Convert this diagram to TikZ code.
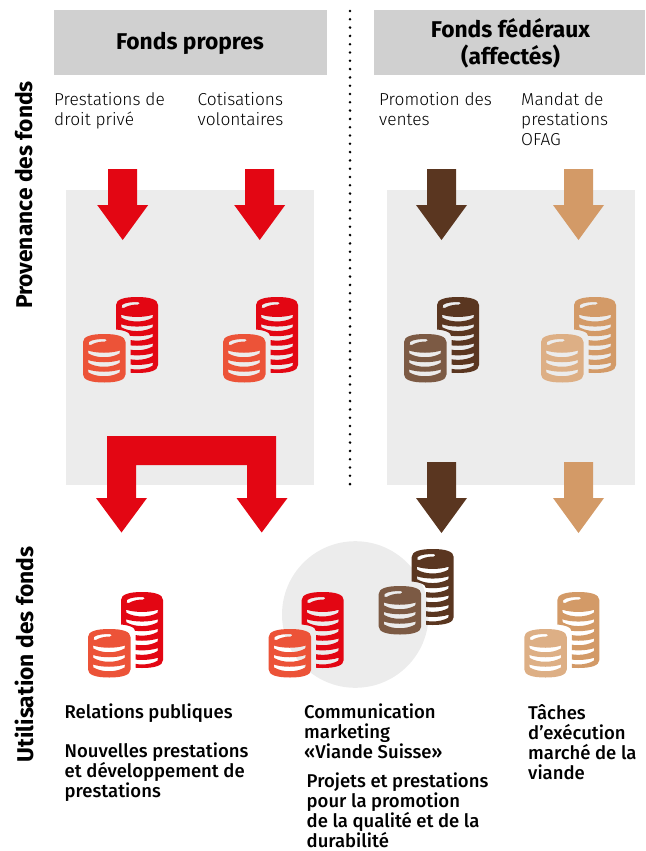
\documentclass[tikz,border=0pt]{standalone}
\usepackage{fontspec}
\setmainfont{Fira Sans}
\newfontfamily\lightfont{Fira Sans Light}
\newfontfamily\mediumfont{Fira Sans Medium}
\definecolor{fondsred}{HTML}{E30613}
\definecolor{fondsorange}{HTML}{EC5338}
\definecolor{fondsbrown}{HTML}{5A3620}
\definecolor{fondsbrownlight}{HTML}{7C5A44}
\definecolor{fondstan}{HTML}{D39A67}
\definecolor{fondstanlight}{HTML}{DDAF85}
\definecolor{panelgrey}{HTML}{ECECEC}
\definecolor{headgrey}{HTML}{D0D0D0}
\tikzset{
	headbox/.style={fill=headgrey},
	panelbox/.style={fill=panelgrey},
	headtext/.style={inner sep=0pt,align=center,font=\fontsize{22.8}{27}\selectfont\bfseries},
	sidetext/.style={inner sep=0pt,rotate=90,font=\fontsize{22.8}{26}\selectfont\bfseries},
	srctext/.style={inner sep=0pt,anchor=north west,align=left,font=\fontsize{17.3}{20}\selectfont\lightfont},
	usetext/.style={inner sep=0pt,anchor=north west,align=left,font=\fontsize{18.5}{20}\selectfont\mediumfont}
}
%outline of one coin pile, local coordinates: #1 width, #2 height
\newcommand{\coinoutline}[2]{
	(0,8) .. controls (0,2.5) and (8,0) .. (#1/2,0) .. controls (#1-8,0) and (#1,2.5) .. (#1,8)
	-- (#1,#2-8) .. controls (#1,#2-2.5) and (#1-8,#2) .. (#1/2,#2)
	.. controls (8,#2) and (0,#2-2.5) .. (0,#2-8) -- cycle
}
%stripes are holes in the pile, so the background shows through
\newcommand{\coinstripe}[1]{
	(5,#1) .. controls (14,#1+3) and (28,#1+3) .. (37,#1) -- (36.5,#1+3)
	.. controls (28,#1+8) and (14,#1+8) .. (5.5,#1+3) -- cycle
}
\newcommand{\coinshine}{
	(6,8) .. controls (9,5.5) and (16,5) .. (22,5) .. controls (24.5,5) and (24.5,7.5) .. (22,7.5)
	.. controls (16,7.5) and (11,9) .. (8,11) .. controls (6,12) and (4.5,10) .. (6,8) -- cycle
}
%#1,#2 left edge of small pile and top of big pile, #3 big colour, #4 small colour
\newcommand{\coinstack}[4]{
	\begin{scope}[even odd rule]
		%keep a gap around the small pile
		\clip (#1-10,#2-10) rectangle (#1+90,#2+100)
			[shift={(#1-5,#2+32)}] \coinoutline{52.5}{58.5};
		\fill[#3,shift={(#1+33,#2)}] \coinoutline{42}{76} \coinshine
			\foreach \s in {17.7,27.3,36.9,46.5,56.1,65.7} {\coinstripe{\s}};
	\end{scope}
	\fill[#4,even odd rule,shift={(#1,#2+37)}] \coinoutline{42.5}{48.5} \coinshine
		\foreach \s in {16.5,26,35.5} {\coinstripe{\s}};
}
%#1 centre, #2 top, #3 colour
\newcommand{\fundarrow}[3]{
	\fill[#3] (#1-14.5,#2) -- (#1+14.5,#2) -- (#1+14.5,#2+36) -- (#1+25.5,#2+36)
		-- (#1,#2+71) -- (#1-25.5,#2+36) -- (#1-14.5,#2+36) -- cycle;
}
\begin{document}
\begin{tikzpicture}[x=1pt,y=-1pt]
\useasboundingbox (0,0) rectangle (645,851);

%headers and panels
\fill[headbox] (54,10) rectangle (327,75);
\fill[headbox] (374,10) rectangle (645,75);
\fill[panelbox] (66,190) rectangle (314,485);
\fill[panelbox] (387,190) rectangle (635,485);
\fill[panelbox] (355.3,614.5) circle (73.3pt);

\coordinate (dottop) at (350,11);
\coordinate (dotbottom) at (350,485);
\draw[line width=2.8pt,line cap=round,dash pattern=on 0pt off 8.3pt] (dottop) -- (dotbottom);

\node[headtext] (propres) at (190,43) {Fonds propres};
\node[headtext] (federaux) at (510.5,43) {Fonds fédéraux\\(affectés)};

\node[sidetext] (provenance) at (24,195) {Provenance des fonds};
\node[sidetext] (utilisation) at (24,654.5) {Utilisation des fonds};

\node[srctext] (prive) at (54,92) {Prestations de\\droit privé};
\node[srctext] (cotis) at (197.5,92) {Cotisations\\volontaires};
\node[srctext] (promo) at (379,92) {Promotion des\\ventes};
\node[srctext] (ofag) at (521,92) {Mandat de\\prestations\\OFAG};

%arrows into the panels
\foreach \x/\c in {122.7/fondsred,259.7/fondsred,441.5/fondsbrown,578.5/fondstan}{
	\fundarrow{\x}{169}{\c}
}

%coins in the panels
\coinstack{83}{297}{fondsred}{fondsorange}
\coinstack{223}{297}{fondsred}{fondsorange}
\coinstack{404}{297}{fondsbrown}{fondsbrownlight}
\coinstack{541}{297}{fondstan}{fondstanlight}

%arrows out of the panels
\fill[fondsred] (107,436) -- (276,436) -- (276,498) -- (287.5,498) -- (261.7,532.5)
	-- (236.5,498) -- (247,498) -- (247,465) -- (136,465) -- (136,498) -- (147,498)
	-- (121.5,532.5) -- (96,498) -- (107,498) -- cycle;
\fundarrow{441.5}{462}{fondsbrown}
\fundarrow{578.5}{462}{fondstan}

%coins below
\coinstack{88}{592}{fondsred}{fondsorange}
\coinstack{268.7}{592}{fondsred}{fondsorange}
\coinstack{378.7}{549}{fondsbrown}{fondsbrownlight}
\coinstack{524.3}{592}{fondstan}{fondstanlight}

\node[usetext] (relations) at (64.5,704) {Relations publiques};
\node[usetext] (nouvelles) at (64.5,743) {Nouvelles prestations\\et développement de\\prestations};
\node[usetext] (comm) at (304,704) {Communication\\marketing\\«Viande Suisse»};
\node[usetext] (projets) at (306.5,773) {Projets et prestations\\pour la promotion\\de la qualité et de la\\durabilité};
\node[usetext] (taches) at (528,704) {Tâches\\d’exécution\\marché de la\\viande};
\end{tikzpicture}
\end{document}
